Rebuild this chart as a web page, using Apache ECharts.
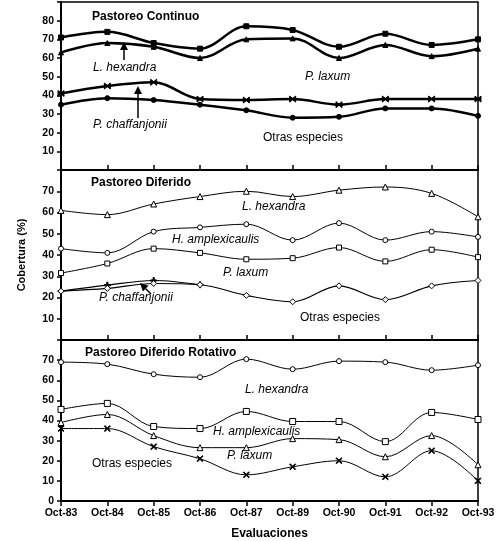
<!DOCTYPE html>
<html>
<head>
<meta charset="utf-8">
<script src="https://cdn.jsdelivr.net/npm/echarts@6/dist/echarts.min.js"></script>
<style>
html, body { margin: 0; padding: 0; background: #fff; }
#chart { width: 499px; height: 541px; }
</style>
</head>
<body>
<div id="chart"></div>
<script>
// evaluaciones (no hay Oct-88)
var categories = ['Oct-83', 'Oct-84', 'Oct-85', 'Oct-86', 'Oct-87', 'Oct-89', 'Oct-90', 'Oct-91', 'Oct-92', 'Oct-93'];

// Pastoreo Continuo
var contLaxum    = [71, 74, 68, 65, 77, 75, 66, 73, 67, 70];
var contHexandra = [63, 68, 66, 60, 70, 70.5, 60, 67, 61, 65];
var contChaff    = [41, 45, 47, 38, 37.5, 38, 35, 38, 38, 38];
var contOtras    = [35, 38.5, 37.5, 35, 32, 28, 28.5, 33, 33, 29];

// Pastoreo Diferido
var difHexandra = [61, 59, 64, 67.5, 70, 67.5, 70.5, 72, 69, 58];
var difAmplex   = [43, 41, 51, 53, 54.5, 47, 55, 47, 51, 48.5];
var difLaxum    = [31.5, 36, 43, 41, 38, 38.5, 43.5, 37, 42.5, 39];
var difChaff    = [23, 25.8, 28, 26, null, null, null, null, null, null];
var difOtras    = [23, 24.3, 26.6, 26, 21, 18, 25.5, 19, 25.5, 28];

// Pastoreo Diferido Rotativo
var rotHexandra = [69, 68, 63, 61.5, 70.5, 65.5, 69.5, 69, 65, 67.5];
var rotAmplex   = [45.5, 48.5, 37, 36, 44.5, 39.5, 39.5, 29.5, 44, 40.5];
var rotLaxum    = [39, 43, 32.5, 26.5, 26.5, 31, 30.5, 22, 32.5, 18];
var rotOtras    = [36, 36, 27, 21, 13, 17, 20, 12, 25, 10];

var yMax = [90, 80, 80];

var FONT = '"Liberation Sans", Arial, sans-serif';
var bowtie = 'path://M0,0L5,4L10,0L10,10L5,6L0,10Z';
var plus = 'path://M4,0H6V4H10V6H6V10H4V6H0V4H4Z';
var cross = 'path://M0,1L1,0L5,4L9,0L10,1L6,5L10,9L9,10L5,6L1,10L0,9L4,5Z';

function line(name, data, idx, symbol, filled, size, width) {
	return {
		name: name,
		type: 'line',
		xAxisIndex: idx,
		yAxisIndex: idx,
		data: data,
		smooth: 0.35,
		symbol: symbol,
		symbolSize: size,
		showSymbol: true,
		connectNulls: false,
		lineStyle: { color: '#000', width: width },
		itemStyle: { color: filled ? '#000' : '#fff', borderColor: '#000', borderWidth: 1 },
		z: 3
	};
}

var grids = [
	{ left: 61, right: 21, top: 2, height: 168 },
	{ left: 61, right: 21, top: 170, height: 170 },
	{ left: 61, right: 21, top: 340, height: 163 }
];

var xAxes = [], yAxes = [];
for (var i = 0; i < 3; i++) {
	grids[i].show = true;
	grids[i].borderColor = '#000';
	grids[i].borderWidth = 1.5;
	grids[i].backgroundColor = 'transparent';
	xAxes.push({
		type: 'category',
		gridIndex: i,
		data: categories,
		boundaryGap: false,
		axisLine: { lineStyle: { color: '#000', width: 2 } },
		axisTick: { show: true, inside: i < 2, length: 5, lineStyle: { color: '#000', width: 1.5 } },
		axisLabel: {
			show: i === 2, color: '#000', fontFamily: FONT, fontWeight: 'bold', fontSize: 10.5,
			margin: 7, interval: 0
		},
		name: i === 2 ? 'Evaluaciones' : '',
		nameLocation: 'middle',
		nameGap: 27,
		nameTextStyle: { color: '#000', fontFamily: FONT, fontWeight: 'bold', fontSize: 12 },
		splitLine: { show: false }
	});
	(function(m, k) {
		yAxes.push({
			type: 'value',
			gridIndex: k,
			min: 0,
			max: m,
			interval: 10,
			axisLine: { show: true, lineStyle: { color: '#000', width: 2 } },
			axisTick: { show: true, length: 4, lineStyle: { color: '#000', width: 1.5 } },
			axisLabel: {
				color: '#000', fontFamily: FONT, fontWeight: 'bold', fontSize: 10.5, margin: 7,
				formatter: function(v) {
					if (v === m) return '';
					if (v === 0 && k < 2) return '';
					return v;
				}
			},
			splitLine: { show: false }
		});
	})(yMax[i], i);
}

var series = [
	line('P. laxum', contLaxum, 0, 'rect', true, 5, 2.5),
	line('L. hexandra', contHexandra, 0, 'triangle', true, 5, 2.5),
	line('P. chaffanjonii', contChaff, 0, bowtie, true, 6, 2.5),
	line('Otras especies', contOtras, 0, 'circle', true, 5, 2.5),

	line('L. hexandra', difHexandra, 1, 'triangle', false, 6, 1),
	line('H. amplexicaulis', difAmplex, 1, 'circle', false, 5, 1),
	line('P. laxum', difLaxum, 1, 'rect', false, 5, 1),
	line('P. chaffanjonii', difChaff, 1, plus, true, 6, 1.2),
	line('Otras especies', difOtras, 1, 'diamond', false, 6, 1.2),

	line('L. hexandra', rotHexandra, 2, 'circle', false, 5, 1),
	line('H. amplexicaulis', rotAmplex, 2, 'rect', false, 6, 1),
	line('P. laxum', rotLaxum, 2, 'triangle', false, 6, 1),
	line('Otras especies', rotOtras, 2, cross, true, 6, 1)
];

function txt(x, y, s, opts) {
	opts = opts || {};
	return {
		type: 'text', x: x, y: y, z: 10,
		style: {
			text: s, fill: '#000', font: (opts.italic ? 'italic ' : '') + (opts.bold ? 'bold ' : '') + (opts.size || 12) + 'px ' + FONT,
			textAlign: opts.align || 'left', textVerticalAlign: 'middle'
		}
	};
}

function arrow(x1, y1, x2, y2) {
	var a = Math.atan2(y2 - y1, x2 - x1), h = 8, w = 4;
	var bx = x2 - h * Math.cos(a), by = y2 - h * Math.sin(a);
	return [
		{ type: 'line', z: 10, shape: { x1: x1, y1: y1, x2: bx, y2: by }, style: { stroke: '#000', lineWidth: 1.5 } },
		{ type: 'polygon', z: 10, shape: { points: [[x2, y2],
			[bx + w * Math.sin(a), by - w * Math.cos(a)],
			[bx - w * Math.sin(a), by + w * Math.cos(a)]] }, style: { fill: '#000' } }
	];
}

var graphics = [
	txt(92, 17, 'Pastoreo Continuo', { bold: true }),
	txt(93, 68, 'L. hexandra', { italic: true }),
	txt(93, 125, 'P. chaffanjonii', { italic: true }),
	txt(305, 77, 'P. laxum', { italic: true }),
	txt(263, 138, 'Otras especies'),

	txt(91, 183, 'Pastoreo Diferido', { bold: true }),
	txt(242, 207, 'L. hexandra', { italic: true }),
	txt(172, 240, 'H. amplexicaulis', { italic: true }),
	txt(223, 273, 'P. laxum', { italic: true }),
	txt(99, 298, 'P. chaffanjonii', { italic: true }),
	txt(300, 318, 'Otras especies'),

	txt(85, 353, 'Pastoreo Diferido Rotativo', { bold: true }),
	txt(245, 390, 'L. hexandra', { italic: true }),
	txt(213, 432, 'H. amplexicaulis', { italic: true }),
	txt(227, 456, 'P. laxum', { italic: true }),
	txt(92, 464, 'Otras especies'),

	{
		type: 'text', x: 22, y: 255, rotation: Math.PI / 2, z: 10,
		style: { text: 'Cobertura (%)', fill: '#000', font: 'bold 11px ' + FONT, textAlign: 'center', textVerticalAlign: 'middle' }
	}
].concat(arrow(124, 60, 124, 42), arrow(138, 118, 138, 86), arrow(151, 294, 140, 283));

var chartOption = {
	backgroundColor: '#fff',
	animation: false,
	grid: grids,
	xAxis: xAxes,
	yAxis: yAxes,
	series: series,
	graphic: graphics
};

var chart = echarts.init(document.getElementById('chart'));
chart.setOption(chartOption);
</script>
</body>
</html>
